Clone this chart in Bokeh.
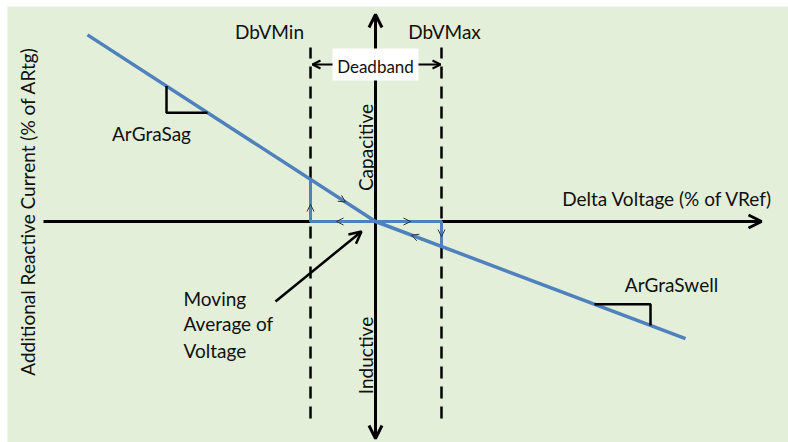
import math
from bokeh.plotting import figure
from bokeh.models import Range1d, Arrow, OpenHead
from bokeh.core.properties import value
from bokeh.embed import file_html
from bokeh.resources import INLINE

# ---- diagram parameters (origin = axis crossing, units ~ px) ----
DB_V_MIN = -65          # deadband lower limit (Delta Voltage)
DB_V_MAX = 66           # deadband upper limit
AR_GRA_SAG = 0.648      # gradient below deadband
AR_GRA_SWELL = 0.378    # gradient above deadband
V_LINE_MIN = -288       # extent of characteristic
V_LINE_MAX = 310
AXIS_X = [-332, 386]
AXIS_Y = [-217, 207]
DASH_Y = [-197, 174]
SAG_TRI_X = [-209, -168]
SWELL_TRI_X = [219, 275]

def curr(v):
    return -AR_GRA_SAG * v if v < 0 else -AR_GRA_SWELL * v

BG = "#E3EFD8"
BLUE = "#4F81BD"
TXT = "#111111"
FONT = "Lato"
FS = "19px"

p = figure(width=788, height=442, output_backend="svg", toolbar_location=None,
           x_range=Range1d(-368, 413), y_range=Range1d(-221, 215),
           min_border_left=7, min_border_top=6, min_border_right=0, min_border_bottom=0,
           background_fill_color=BG, border_fill_color="white",
           outline_line_color=None)
p.axis.visible = False
p.grid.visible = False

# axes lines (glyphs, so the label box can cover them)
p.line(AXIS_X, [0, 0], line_color="black", line_width=3)
p.line([0, 0], AXIS_Y, line_color="black", line_width=3)

def head(x, y, dx, dy, size=13, lw=3, color="black"):
    n = math.hypot(dx, dy)
    dx, dy = dx / n, dy / n
    p.add_layout(Arrow(end=OpenHead(size=size, line_width=lw, line_color=color),
                       x_start=x - dx * 2, y_start=y - dy * 2, x_end=x, y_end=y,
                       line_alpha=0))

head(AXIS_X[1], 0, 1, 0)
head(0, AXIS_Y[1], 0, 1)
head(0, AXIS_Y[0], 0, -1)

# deadband dashed lines
for xv in (DB_V_MIN, DB_V_MAX):
    p.line([xv, xv], DASH_Y, line_color="black", line_width=2.5, line_dash="12 8")

# characteristic line
p.line([V_LINE_MIN, 0, V_LINE_MAX], [curr(V_LINE_MIN), 0, curr(V_LINE_MAX)],
       line_color=BLUE, line_width=3.5)
# hysteresis path in deadband
p.line([DB_V_MIN, DB_V_MIN, DB_V_MAX, DB_V_MAX],
       [curr(DB_V_MIN), 0, 0, curr(DB_V_MAX)], line_color=BLUE, line_width=3)

# slope triangles
sx1, sx2 = SAG_TRI_X
p.line([sx1, sx1, sx2], [curr(sx1), curr(sx2), curr(sx2)], line_color="black", line_width=2.5)
wx1, wx2 = SWELL_TRI_X
p.line([wx1, wx2, wx2], [curr(wx1), curr(wx1), curr(wx2)], line_color="black", line_width=2.5)

# small direction arrows along the path
small = dict(size=7, lw=1, color="#333333")
head(-30, curr(-30), 1, -AR_GRA_SAG, **small)
head(DB_V_MIN, 17, 0, 1, **small)
head(-39, 0, -1, 0, **small)
head(35, 0, 1, 0, **small)
head(DB_V_MAX, -15, 0, -1, **small)
head(36, curr(36), -1, AR_GRA_SWELL, **small)

# deadband label
p.quad(left=-43, right=43, bottom=141, top=173, fill_color="white", line_color=None)
p.line([-43, DB_V_MIN + 2], [157, 157], line_color="black", line_width=2)
p.line([43, DB_V_MAX - 1], [157, 157], line_color="black", line_width=2)
head(DB_V_MIN + 2, 157, -1, 0, size=8, lw=2)
head(DB_V_MAX - 1, 157, 1, 0, size=8, lw=2)

# moving average pointer
p.add_layout(Arrow(end=OpenHead(size=12, line_width=2.5, line_color="black"),
                   x_start=-100, y_start=-80, x_end=-14, y_end=-10, line_width=2.5))

# texts
labels = ["DbVMin", "DbVMax", "ArGraSag", "ArGraSwell", "Delta Voltage (% of VRef)"]
lx = [-106, 69, -224, 296, 292]
ly = [190, 190, 88, -63, 23]
p.text(x=lx, y=ly, text=labels, text_align="center", text_baseline="middle",
       text_font=value(FONT), text_font_size=value(FS), text_color=TXT)
p.text(x=[0], y=[155], text=["Deadband"], text_align="center", text_baseline="middle",
       text_font=value(FONT), text_font_size=value("17px"), text_color=TXT)

ma_lines = ["Moving", "Average of", "Voltage"]
p.text(x=[-192] * 3, y=[-77, -102, -129], text=ma_lines, text_align="left",
       text_baseline="middle", text_font=value(FONT), text_font_size=value(FS),
       text_color=TXT)

rot = ["Capacitive", "Inductive", "Additional Reactive Current (% of ARtg)"]
p.text(x=[-10, -10, -348], y=[74, -134, 10], text=rot, angle=math.pi / 2,
       text_align="center", text_baseline="middle", text_font=value(FONT),
       text_font_size=value(FS), text_color=TXT)

open("out.html", "w").write(file_html(p, INLINE))
